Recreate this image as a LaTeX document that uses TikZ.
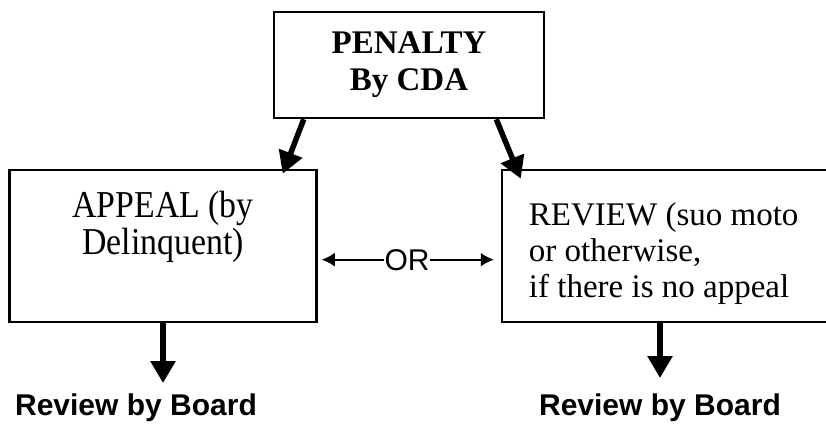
\documentclass[tikz,border=0pt]{standalone}
\usepackage{fontspec}
\setmainfont{Liberation Serif}
\setsansfont{Liberation Sans}
\newfontfamily\tallserif[FakeStretch=0.89]{Liberation Serif}
\usepackage{tikz}
\usetikzlibrary{positioning}
\usetikzlibrary{arrows.meta}

\begin{document}
\begin{tikzpicture}[x=1pt,y=-1pt,
  box/.style={draw,line width=2.5pt,inner sep=0pt},
  boxtext/.style={inner sep=0pt,font=\fontsize{33}{36}\selectfont},
  board/.style={inner sep=0pt,font=\sffamily\bfseries\fontsize{30}{34}\selectfont},
  bigarrow/.style={line width=5.5pt,-{Triangle[length=22pt,width=24pt]}},
  orarrow/.style={line width=2pt,-{Latex[length=13pt,width=14pt]}}]
  \useasboundingbox (0,0) rectangle (826,425);
  \node[box,minimum width=270pt,minimum height=106pt,align=center,
        font=\bfseries\fontsize{33}{37}\selectfont] (penalty) at (409,65) {PENALTY\\By CDA};
  \node[box,minimum width=307pt,minimum height=152pt] (appeal) at (163,246) {};
  \node[box,minimum width=348pt,minimum height=152pt] (review) at (676,246) {};
  \node[boxtext,align=center,font=\tallserif\fontsize{38}{37}\selectfont,
        below=22pt of appeal.north] (appealtxt) {APPEAL (by\\Delinquent)};
  \node[boxtext,align=left,below right=34pt and 28pt of review.north west] (reviewtxt)
        {REVIEW (suo moto\\or otherwise,\\if there is no appeal};
  \node[inner sep=0pt,anchor=base,font=\sffamily\fontsize{30}{34}\selectfont] (or) at (407,270) {OR};
  \node[board,anchor=base] (lboard) at (136,415) {Review by Board};
  \node[board,anchor=base] (rboard) at (660,415) {Review by Board};
  % arrows from the penalty
  \draw[bigarrow] ([xshift=31pt]penalty.south west) -- ([xshift=-35pt,yshift=-5pt]appeal.north east);
  \draw[bigarrow] ([xshift=-49pt]penalty.south east) -- ([xshift=20pt,yshift=-10pt]review.north west);
  % either way
  \draw[orarrow] (or.west) -- ([xshift=4pt]or.west -| appeal.east);
  \draw[orarrow] (or.east) -- ([xshift=-7pt]or.east -| review.west);
  \draw[bigarrow,shorten >=10pt] (appeal.south) -- (appeal.south |- lboard.north);
  \draw[bigarrow,shorten >=15pt] (rboard.north |- review.south) -- (rboard.north);
\end{tikzpicture}
\end{document}
